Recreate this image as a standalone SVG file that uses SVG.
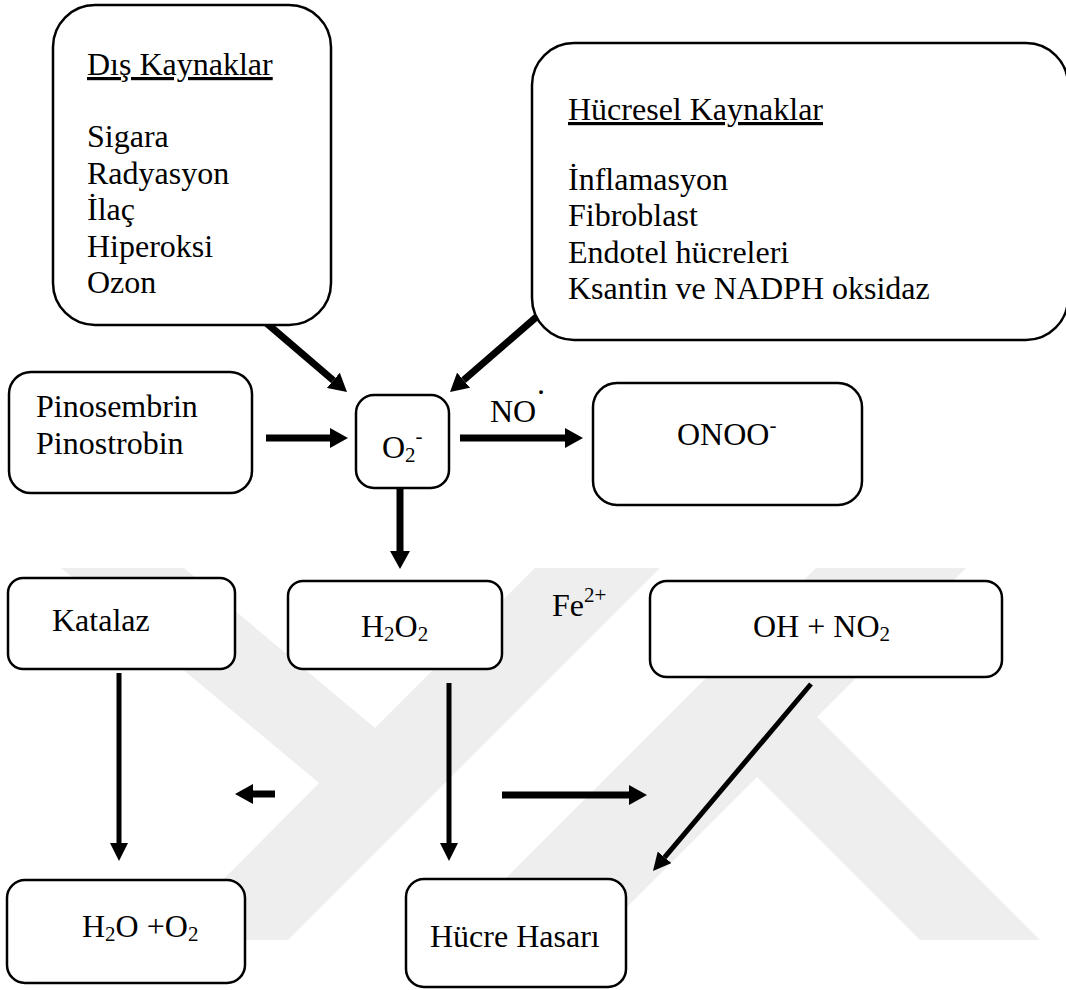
<svg xmlns="http://www.w3.org/2000/svg" width="1066" height="990" viewBox="0 0 1066 990">
<style>
  .box { fill: #ffffff; stroke: #000000; stroke-width: 2.5; }
  .t { font-family: "Liberation Serif", "Times New Roman", serif; font-size: 32px; fill: #000000; }
  .s { font-size: 21px; }
  .u { text-decoration: underline; }
  .thick { stroke: #000000; stroke-width: 7; fill: none; }
  .thin { stroke: #000000; stroke-width: 5; fill: none; }
  .wm { fill: #eeeeee; stroke: none; }
</style>
<defs>
  <marker id="headBig" viewBox="0 0 18 20" refX="0" refY="10" markerWidth="18" markerHeight="20" markerUnits="userSpaceOnUse" orient="auto">
    <path d="M0,0 L18,10 L0,20 Z" fill="#000000"/>
  </marker>
  <marker id="headSmall" viewBox="0 0 18 18" refX="0" refY="9" markerWidth="18" markerHeight="18" markerUnits="userSpaceOnUse" orient="auto">
    <path d="M0,0 L18,9 L0,18 Z" fill="#000000"/>
  </marker>
</defs>
<rect x="0" y="0" width="1066" height="990" fill="#ffffff"/>

<g id="watermark">
  <polygon class="wm" points="61,568 184,568 375,728 535,568 660,568 288,940 163,940 319,783"/>
  <polygon class="wm" points="816,568 966,568 817,717 1040,940 920,940 757,777 594,940 444,940"/>
</g>

<g id="connectors">
  <line class="thick" x1="264" y1="321" x2="333.3" y2="380.3" marker-end="url(#headBig)"/>
  <line class="thick" x1="541" y1="313" x2="463.6" y2="380.2" marker-end="url(#headBig)"/>
  <line class="thick" x1="266" y1="438" x2="330" y2="438" marker-end="url(#headBig)"/>
  <line class="thick" x1="460" y1="438" x2="565" y2="438" marker-end="url(#headBig)"/>
  <line class="thick" x1="400" y1="488" x2="400" y2="551" marker-end="url(#headBig)"/>
  <line class="thin" x1="119" y1="673" x2="119" y2="843" marker-end="url(#headSmall)"/>
  <line class="thin" x1="449" y1="683" x2="449" y2="843" marker-end="url(#headSmall)"/>
  <line class="thick" x1="275" y1="794" x2="253" y2="794" marker-end="url(#headBig)"/>
  <line class="thick" x1="502" y1="795" x2="629" y2="795" marker-end="url(#headBig)"/>
  <line class="thin" x1="811" y1="684" x2="664.6" y2="857.3" marker-end="url(#headSmall)"/>
</g>

<g id="dis-kaynaklar">
  <rect class="box" x="53" y="5" width="278" height="320" rx="42" ry="42"/>
  <text class="t u" x="87" y="75">Dış Kaynaklar</text>
  <text class="t" x="87" y="147">Sigara</text>
  <text class="t" x="87" y="183.5">Radyasyon</text>
  <text class="t" x="87" y="220">İlaç</text>
  <text class="t" x="87" y="256.5">Hiperoksi</text>
  <text class="t" x="87" y="293">Ozon</text>
</g>

<g id="hucresel-kaynaklar">
  <rect class="box" x="532" y="43" width="536" height="297" rx="42" ry="42"/>
  <text class="t u" x="568" y="120">Hücresel Kaynaklar</text>
  <text class="t" x="568" y="189.5">İnflamasyon</text>
  <text class="t" x="568" y="226">Fibroblast</text>
  <text class="t" x="568" y="262.5">Endotel hücreleri</text>
  <text class="t" x="568" y="299">Ksantin ve NADPH oksidaz</text>
</g>

<g id="pinosembrin">
  <rect class="box" x="9" y="372" width="243" height="121" rx="22" ry="22"/>
  <text class="t" x="36" y="417">Pinosembrin</text>
  <text class="t" x="36" y="454">Pinostrobin</text>
</g>

<g id="o2">
  <rect class="box" x="356" y="395" width="93" height="93" rx="18" ry="18"/>
  <text class="t" x="382" y="458">O<tspan class="s" dy="4">2</tspan><tspan class="s" dy="-19">-</tspan></text>
</g>

<g id="no-label">
  <text class="t" x="490" y="422">NO</text>
  <text class="t" x="537" y="394" font-size="28">.</text>
</g>

<g id="onoo">
  <rect class="box" x="593" y="383" width="269" height="122" rx="24" ry="24"/>
  <text class="t" x="677" y="445">ONOO<tspan class="s" dy="-13">-</tspan></text>
</g>

<g id="katalaz">
  <rect class="box" x="8" y="578" width="227" height="91" rx="15" ry="15"/>
  <text class="t" x="52" y="631">Katalaz</text>
</g>

<g id="h2o2">
  <rect class="box" x="288" y="581" width="214" height="88" rx="15" ry="15"/>
  <text class="t" x="361" y="637">H<tspan class="s" dy="4">2</tspan><tspan dy="-4">O</tspan><tspan class="s" dy="4">2</tspan></text>
</g>

<g id="fe-label">
  <text class="t" x="552" y="616">Fe<tspan class="s" dy="-14">2+</tspan></text>
</g>

<g id="oh-no2">
  <rect class="box" x="650" y="581" width="352" height="96" rx="17" ry="17"/>
  <text class="t" x="753" y="637">OH + NO<tspan class="s" dy="4">2</tspan></text>
</g>

<g id="h2o-o2">
  <rect class="box" x="7" y="880" width="238" height="103" rx="18" ry="18"/>
  <text class="t" x="82" y="937">H<tspan class="s" dy="4">2</tspan><tspan dy="-4">O +O</tspan><tspan class="s" dy="4">2</tspan></text>
</g>

<g id="hucre-hasari">
  <rect class="box" x="406" y="879" width="220" height="108" rx="18" ry="18"/>
  <text class="t" x="430" y="947">Hücre Hasarı</text>
</g>
</svg>
